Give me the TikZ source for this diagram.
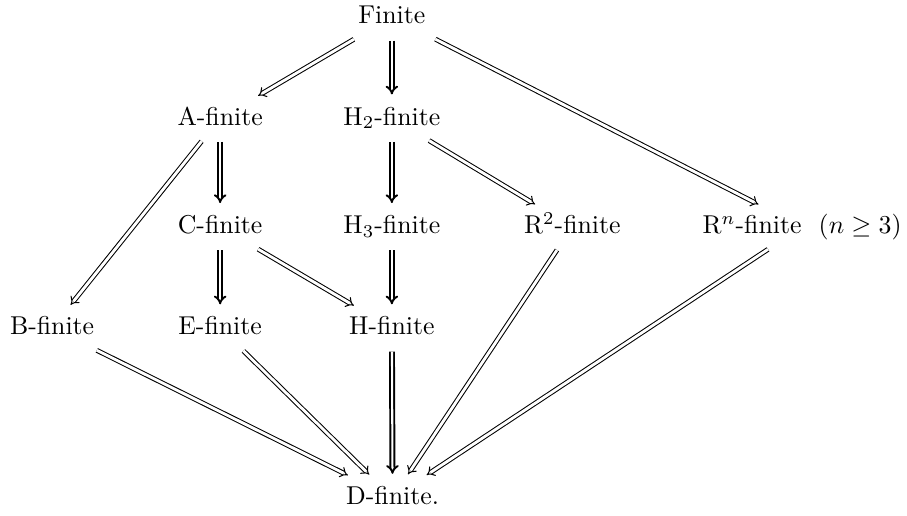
\documentclass[tikz,border=0pt]{standalone}
\usetikzlibrary{arrows.meta}
\tikzset{
  cls/.style={inner sep=4pt, text height=1.55ex, text depth=.3ex},
  impl/.style={double, double distance=1.1pt, -Implies, shorten >=1pt, shorten <=1pt},
  implv/.style={impl, line width=0.75pt, double distance=0.8pt}
}
\begin{document}
\begin{tikzpicture}
\useasboundingbox (0,0) rectangle (12.36,7.03);
% classes
\node[cls] (fin) at (5.34,6.80) {Finite};
\node[cls] (afin) at (3.00,5.42) {A-finite};
\node[cls] (htwo) at (5.34,5.42) {H$_2$-finite};
\node[cls] (cfin) at (3.00,3.94) {C-finite};
\node[cls] (hthree) at (5.34,3.94) {H$_3$-finite};
\node[cls] (rtwo) at (7.80,3.94) {R$^2$-finite};
\node[cls] (rn) at (10.93,3.94) {R$^n$-finite~~$(n\geq 3)$};
\node[cls] (bfin) at (0.71,2.56) {B-finite};
\node[cls] (efin) at (3.00,2.56) {E-finite};
\node[cls] (hfin) at (5.34,2.56) {H-finite};
\node[cls] (dfin) at (5.35,0.25) {D-finite.};
% inclusions
\draw[impl] (fin) -- (afin);
\draw[implv] (fin) -- (htwo);
\draw[impl] (fin) -- (rn);
\draw[impl] (afin) -- (bfin);
\draw[implv] (afin) -- (cfin);
\draw[implv] (htwo) -- (hthree);
\draw[impl] (htwo) -- (rtwo);
\draw[implv] (cfin) -- (efin);
\draw[impl] (cfin) -- (hfin);
\draw[implv] (hthree) -- (hfin);
\draw[impl] (bfin) -- (dfin);
\draw[impl] (efin) -- (dfin);
\draw[implv] (hfin) -- (dfin);
\draw[impl] (rtwo) -- (dfin);
\draw[impl] (rn) -- (dfin);
\end{tikzpicture}
\end{document}
